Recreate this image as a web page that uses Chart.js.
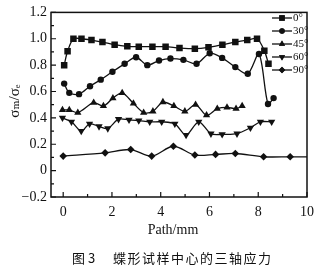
<!DOCTYPE html>
<html>
<head>
<meta charset="utf-8">
<script src="https://cdn.jsdelivr.net/npm/chart.js@4.4.0/dist/chart.umd.min.js"></script>
<style>
  html, body { margin: 0; padding: 0; background: #fff; }
</style>
</head>
<body>
<canvas id="c" width="323" height="272"></canvas>
<script>
// angle labels for the legend
const angles = ['0°', '30°', '45°', '60°', '90°'];

// path (mm) and stress ratio for each angle
const path0 = [0.04, 0.18, 0.42, 0.75, 1.16, 1.61, 2.11, 2.63, 3.1, 3.66, 4.2, 4.77, 5.4, 5.96, 6.53, 7.06, 7.55, 7.95, 8.25, 8.42];
const ratio0 = [0.80, 0.905, 1.0, 1.0, 0.99, 0.975, 0.955, 0.943, 0.94, 0.94, 0.94, 0.93, 0.925, 0.935, 0.955, 0.975, 0.99, 1.0, 0.91, 0.81];

const path30 = [0.04, 0.25, 0.65, 1.1, 1.54, 2.02, 2.52, 2.99, 3.45, 3.93, 4.4, 4.93, 5.47, 6.01, 6.52, 7.06, 7.57, 8.03, 8.4, 8.63];
const ratio30 = [0.66, 0.59, 0.58, 0.64, 0.69, 0.75, 0.81, 0.86, 0.80, 0.835, 0.85, 0.84, 0.81, 0.89, 0.855, 0.785, 0.735, 0.885, 0.505, 0.55];

const path45 = [-0.03, 0.25, 0.6, 1.25, 1.65, 2.04, 2.42, 2.88, 3.3, 3.68, 4.09, 4.54, 4.99, 5.43, 5.88, 6.32, 6.72, 7.09, 7.34];
const ratio45 = [0.46, 0.46, 0.44, 0.515, 0.49, 0.55, 0.59, 0.51, 0.44, 0.45, 0.52, 0.49, 0.45, 0.5, 0.42, 0.47, 0.48, 0.47, 0.49];

const path60 = [-0.03, 0.34, 0.74, 1.08, 1.47, 1.83, 2.27, 2.7, 3.1, 3.55, 4.04, 4.58, 5.04, 5.56, 6.06, 6.52, 7.13, 7.68, 8.09, 8.55];
const ratio60 = [0.40, 0.37, 0.30, 0.355, 0.335, 0.32, 0.39, 0.385, 0.38, 0.37, 0.37, 0.355, 0.27, 0.37, 0.28, 0.275, 0.28, 0.325, 0.37, 0.37];

const path90 = [0, 1.72, 2.77, 3.63, 4.52, 5.4, 6.25, 7.06, 8.22, 9.31, 10];
const ratio90 = [0.11, 0.135, 0.16, 0.11, 0.185, 0.118, 0.123, 0.13, 0.105, 0.105, 0.105];

const xTicks = [0, 2, 4, 6, 8, 10];
const yTicks = [-0.2, 0, 0.2, 0.4, 0.6, 0.8, 1.0, 1.2];

const ink = '#111';
const serif = '"Liberation Serif", "DejaVu Serif", serif';

const toPoints = (xs, ys) => xs.map((x, i) => ({ x: x, y: ys[i] }));

const markers = [
  { pointStyle: 'rect', radius: 4.6, rotation: 0 },
  { pointStyle: 'circle', radius: 3.2, rotation: 0 },
  { pointStyle: 'triangle', radius: 4.2, rotation: 0 },
  { pointStyle: 'triangle', radius: 4.2, rotation: 180 },
  { pointStyle: 'rectRot', radius: 3.8, rotation: 0 }
];

const series = [
  toPoints(path0, ratio0),
  toPoints(path30, ratio30),
  toPoints(path45, ratio45),
  toPoints(path60, ratio60),
  toPoints(path90, ratio90)
];

const datasets = series.map((pts, i) => ({
  label: angles[i],
  data: pts,
  borderColor: ink,
  backgroundColor: ink,
  borderWidth: 1.3,
  tension: 0.3,
  pointStyle: markers[i].pointStyle,
  pointRotation: markers[i].rotation,
  // last 90° point only carries the line to the frame
  pointRadius: i === 4 ? pts.map((p, k) => (k === pts.length - 1 ? 0 : markers[i].radius)) : markers[i].radius,
  pointBorderWidth: 0
}));

// frame, inward ticks, titles, legend and caption
const decor = {
  id: 'decor',
  afterDraw(chart) {
    const { ctx, chartArea: a, scales } = chart;
    const x = scales.x, y = scales.y;
    ctx.save();
    ctx.strokeStyle = ink;
    ctx.lineWidth = 1.5;
    ctx.strokeRect(a.left, a.top, a.right - a.left, a.bottom - a.top);

    ctx.lineWidth = 1.2;
    ctx.beginPath();
    for (let v = 0; v <= 10; v += 1) {
      const px = x.getPixelForValue(v);
      const len = v % 2 === 0 ? 5 : 3;
      ctx.moveTo(px, a.bottom);
      ctx.lineTo(px, a.bottom - len);
    }
    for (let k = -2; k <= 12; k++) {
      const py = y.getPixelForValue(k / 10);
      const len = k % 2 === 0 ? 5 : 3;
      ctx.moveTo(a.left, py);
      ctx.lineTo(a.left + len, py);
    }
    ctx.stroke();

    // axis titles
    ctx.fillStyle = ink;
    ctx.font = '14px ' + serif;
    ctx.textAlign = 'center';
    ctx.textBaseline = 'middle';
    ctx.fillText('Path/mm', 173, 230);
    ctx.save();
    ctx.translate(15, 101);
    ctx.rotate(-Math.PI / 2);
    ctx.font = '15px ' + serif;
    ctx.fillText('σₘ/σₑ', 0, 0);
    ctx.restore();

    // legend
    ctx.font = '11px ' + serif;
    ctx.textAlign = 'left';
    angles.forEach((lab, i) => {
      const ly = 18 + i * 13;
      ctx.lineWidth = 1.3;
      ctx.beginPath();
      ctx.moveTo(272, ly);
      ctx.lineTo(292, ly);
      ctx.stroke();
      Chart.helpers.drawPoint(ctx, {
        pointStyle: markers[i].pointStyle,
        radius: markers[i].radius * 0.85,
        rotation: markers[i].rotation,
        borderWidth: 0
      }, 282, ly);
      ctx.fill();
      ctx.fillText(lab, 293, ly);
    });

    // caption
    ctx.font = '13px "Noto Sans CJK SC", sans-serif';
    ctx.fillText('图 3', 72, 258);
    ctx.letterSpacing = '1.5px';
    ctx.fillText('蝶形试样中心的三轴应力', 113, 258);
    ctx.restore();
  }
};

new Chart(document.getElementById('c'), {
  type: 'line',
  data: { datasets: datasets },
  options: {
    responsive: false,
    animation: false,
    layout: { padding: { left: 0, top: 11, right: 16, bottom: 0 } },
    plugins: { legend: { display: false }, tooltip: { enabled: false } },
    scales: {
      x: {
        type: 'linear',
        min: -0.5,
        max: 10,
        afterBuildTicks: s => { s.ticks = xTicks.map(v => ({ value: v })); },
        afterFit: s => { s.height = 75; },
        grid: { display: false, drawTicks: false },
        border: { display: false },
        ticks: {
          font: { family: serif, size: 14 },
          color: ink,
          padding: 7,
          maxRotation: 0,
          callback: v => String(v)
        }
      },
      y: {
        min: -0.2,
        max: 1.2,
        afterBuildTicks: s => { s.ticks = yTicks.map(v => ({ value: v })); },
        afterFit: s => { s.width = 51; },
        grid: { display: false, drawTicks: false },
        border: { display: false },
        ticks: {
          font: { family: serif, size: 14 },
          color: ink,
          padding: 4,
          callback: v => (Math.abs(v) < 1e-9 ? '0' : v.toFixed(1).replace('-', '\u2212'))
        }
      }
    }
  },
  plugins: [decor]
});
</script>
</body>
</html>
